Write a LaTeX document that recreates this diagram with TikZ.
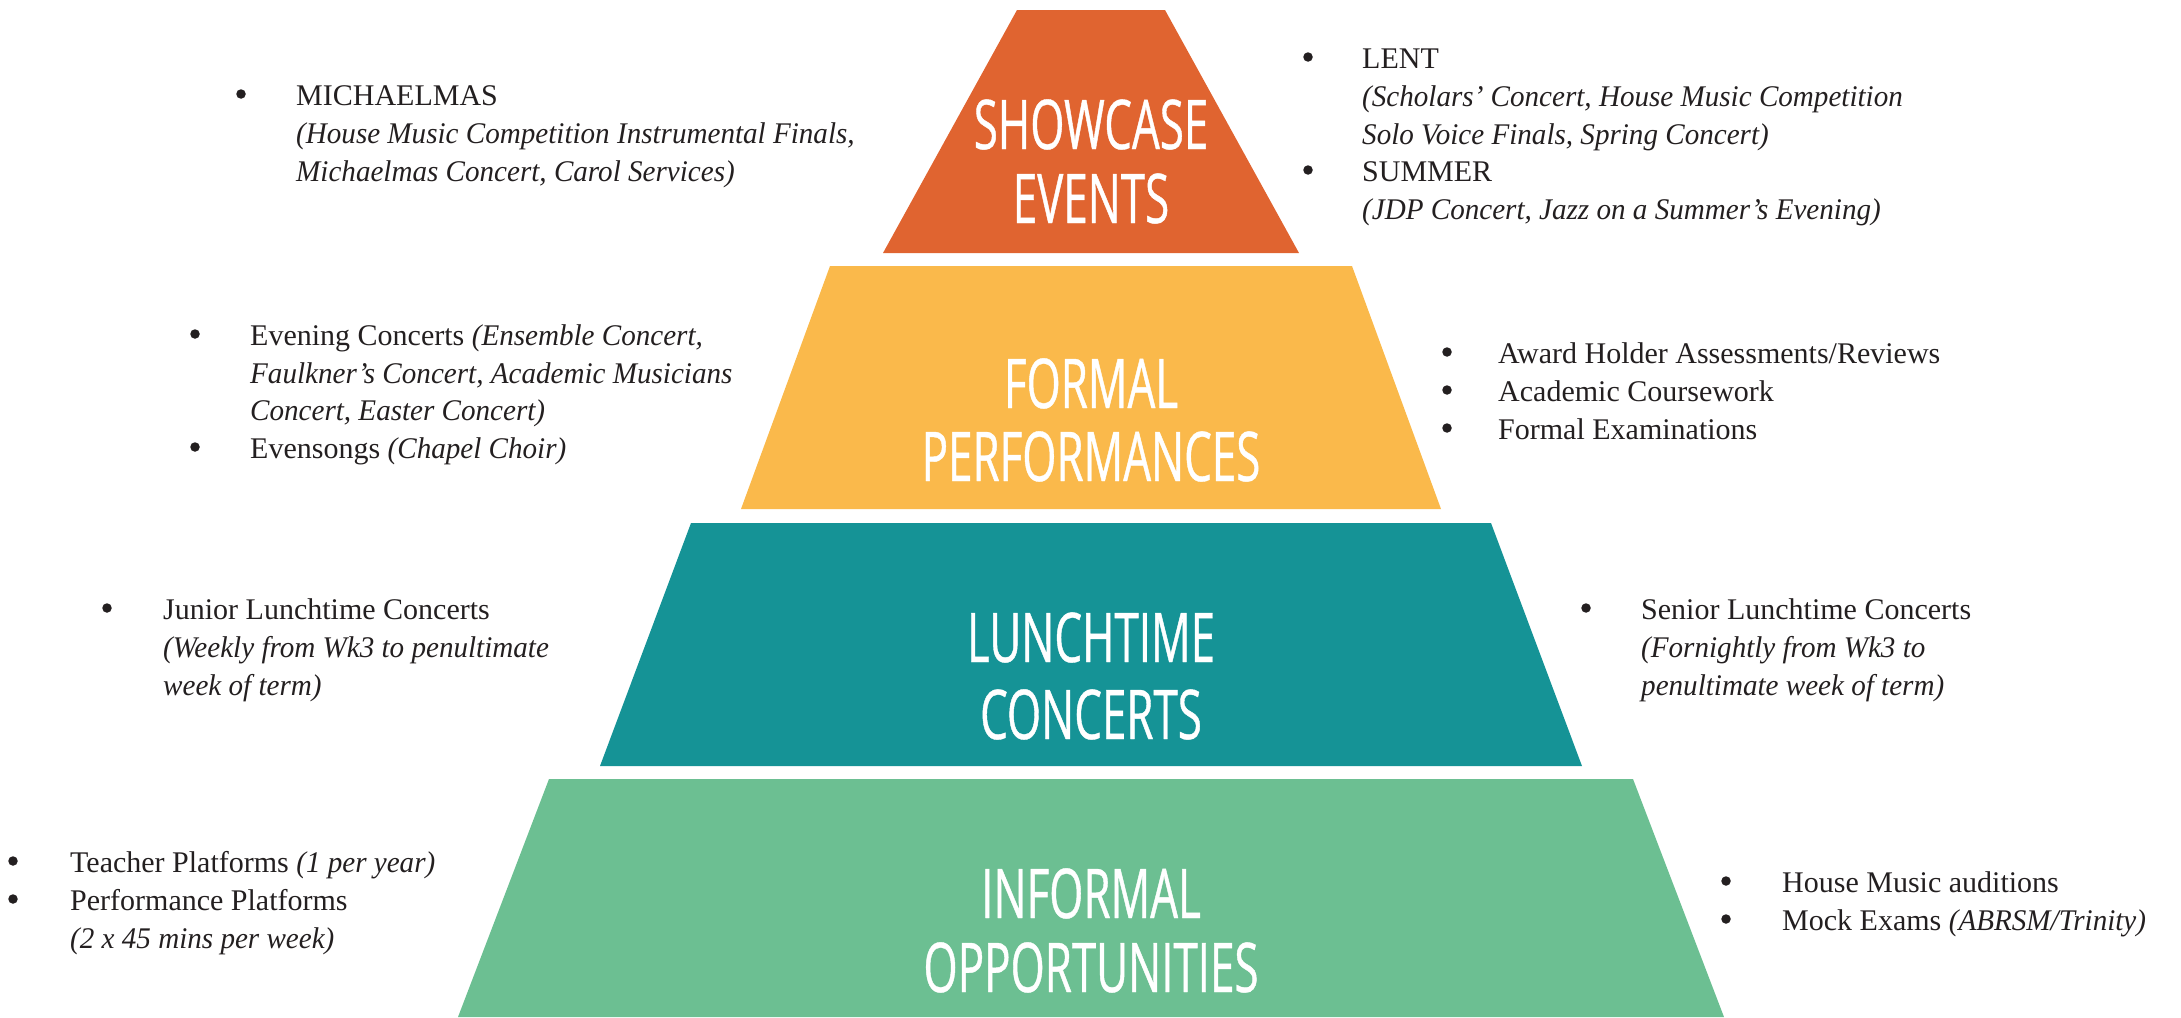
\documentclass[tikz,border=0pt]{standalone}
\usepackage{fontspec}
\setmainfont{Liberation Serif}[ItalicFeatures={FakeStretch=0.97}]
\newfontfamily\tierfont[FakeStretch=0.64,FakeBold=0.6]{Open Sans}
\definecolor{cOrange}{RGB}{224,100,48}
\definecolor{cYellow}{RGB}{250,185,75}
\definecolor{cTeal}{RGB}{21,147,150}
\definecolor{cGreen}{RGB}{108,191,146}
\definecolor{ink}{RGB}{35,31,32}
\tikzset{
  tierlbl/.style={font=\tierfont\fontsize{68.6}{74}\selectfont, text=white, anchor=base, inner sep=0pt},
  txt/.style={font=\fontsize{30}{38}\selectfont, text=ink, anchor=base west, inner sep=0pt},
  bul/.style={circle, fill=ink, minimum size=9.5pt, inner sep=0pt, draw=none},
}
\begin{document}
\begin{tikzpicture}[x=1pt,y=-1pt]
\useasboundingbox (0,0) rectangle (2181,1017);
% tiers
\fill[cOrange] (1017,10) -- (1165,10) -- (1299,253) -- (883,253) -- cycle;
\fill[cYellow] (830,266) -- (1352,266) -- (1441,509) -- (741,509) -- cycle;
\fill[cTeal] (691,523) -- (1491,523) -- (1582,766) -- (600,766) -- cycle;
\fill[cGreen] (549,779) -- (1633,779) -- (1724,1017) -- (458,1017) -- cycle;
% tier labels
\node[tierlbl] (s1) at (1091,149) {SHOWCASE};
\node[tierlbl] (s2) at (1091,223) {EVENTS};
\node[tierlbl] (f1) at (1091,408) {FORMAL};
\node[tierlbl] (f2) at (1091,481) {PERFORMANCES};
\node[tierlbl] (l1) at (1091,662) {LUNCHTIME};
\node[tierlbl] (l2) at (1091,739) {CONCERTS};
\node[tierlbl] (i1) at (1091,918) {INFORMAL};
\node[tierlbl] (i2) at (1091,992) {OPPORTUNITIES};
% top left
\node[bul] (tlb1) at (241,94) {};
\node[txt] (tl1) at (296,105) {MICHAELMAS};
\node[txt] (tl2) at (296,143) {\itshape (House Music Competition Instrumental Finals,};
\node[txt] (tl3) at (296,181) {\itshape Michaelmas Concert, Carol Services)};
% top right
\node[bul] (trb1) at (1308,57) {};
\node[txt] (tr1) at (1362,68) {LENT};
\node[txt] (tr2) at (1362,106) {\itshape (Scholars’ Concert, House Music Competition};
\node[txt] (tr3) at (1362,144) {\itshape Solo Voice Finals, Spring Concert)};
\node[bul] (trb2) at (1308,170) {};
\node[txt] (tr4) at (1362,181) {SUMMER};
\node[txt] (tr5) at (1362,219) {\itshape (JDP Concert, Jazz on a Summer’s Evening)};
% formal left
\node[bul] (flb1) at (195,334) {};
\node[txt] (fl1) at (250,345) {Evening Concerts \textit{(Ensemble Concert,}};
\node[txt] (fl2) at (250,383) {\itshape Faulkner’s Concert, Academic Musicians};
\node[txt] (fl3) at (250,420) {\itshape Concert, Easter Concert)};
\node[bul] (flb2) at (195,447) {};
\node[txt] (fl4) at (250,458) {Evensongs \textit{(Chapel Choir)}};
% formal right
\node[bul] (frb1) at (1447,352) {};
\node[txt] (fr1) at (1498,363) {Award Holder Assessments/Reviews};
\node[bul] (frb2) at (1447,390) {};
\node[txt] (fr2) at (1498,401) {Academic Coursework};
\node[bul] (frb3) at (1447,428) {};
\node[txt] (fr3) at (1498,439) {Formal Examinations};
% lunchtime left
\node[bul] (llb1) at (107,608) {};
\node[txt] (ll1) at (163,619) {Junior Lunchtime Concerts};
\node[txt] (ll2) at (163,657) {\itshape (Weekly from Wk3 to penultimate};
\node[txt] (ll3) at (163,695) {\itshape week of term)};
% lunchtime right
\node[bul] (lrb1) at (1586,608) {};
\node[txt] (lr1) at (1641,619) {Senior Lunchtime Concerts};
\node[txt] (lr2) at (1641,657) {\itshape (Fornightly from Wk3 to};
\node[txt] (lr3) at (1641,695) {\itshape penultimate week of term)};
% informal left
\node[bul] (ilb1) at (13,861) {};
\node[txt] (il1) at (70,872) {Teacher Platforms \textit{(1 per year)}};
\node[bul] (ilb2) at (13,899) {};
\node[txt] (il2) at (70,910) {Performance Platforms};
\node[txt] (il3) at (70,948) {\itshape (2 x 45 mins per week)};
% informal right
\node[bul] (irb1) at (1726,881) {};
\node[txt] (ir1) at (1782,892) {House Music auditions};
\node[bul] (irb2) at (1726,919) {};
\node[txt] (ir2) at (1782,930) {Mock Exams \textit{(ABRSM/Trinity)}};
\end{tikzpicture}
\end{document}
